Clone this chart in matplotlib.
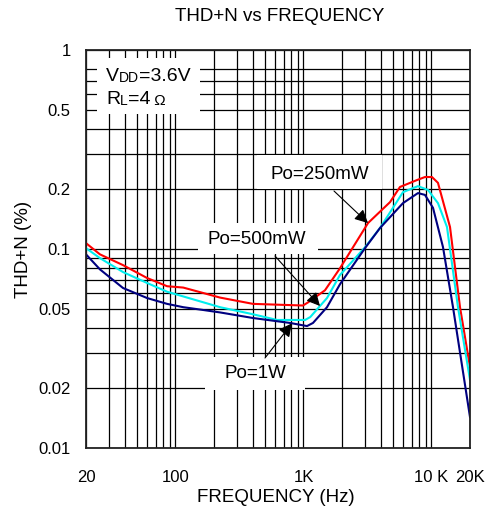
"""
THD+N vs frecuencia para tres potencias de salida.
Escala log-log con rejilla completa, estilo hoja de datos.
"""

import matplotlib
matplotlib.use("Agg")
import matplotlib.pyplot as plt
import matplotlib.ticker as mtick
from matplotlib.patches import Rectangle
import numpy as np

plt.rcParams["font.family"] = ["Liberation Sans", "DejaVu Sans"]

# \\\\\\\\\\\
# Datos
# \\\\\\\\\\\

freq_250mw = [20, 25.7, 38.9, 60, 86, 115, 223, 403, 991, 1090, 1472, 1928,
              3193, 4744, 5675, 7703, 8897, 10090, 11240, 13960, 16710, 20000]
thd_250mw = [0.107, 0.094, 0.083, 0.0715, 0.065, 0.064, 0.057, 0.053, 0.052, 0.054, 0.062, 0.080,
             0.135, 0.172, 0.205, 0.222, 0.230, 0.230, 0.215, 0.129, 0.051, 0.0255]

freq_500mw = [20, 25.7, 38.9, 60, 86, 223, 403, 621, 1030, 1130, 1527, 1928,
              3025, 3963, 5988, 7846, 9393, 11240, 13220, 16110, 20000]
thd_500mw = [0.101, 0.090, 0.0766, 0.0675, 0.061, 0.051, 0.047, 0.044, 0.044, 0.0455, 0.0567, 0.074,
             0.102, 0.1275, 0.193, 0.207, 0.198, 0.170, 0.129, 0.051, 0.022]

freq_1w = [20, 25.7, 38.9, 60, 86, 115, 164, 223, 403, 785, 1066, 1187, 1527, 1928,
           3025, 3963, 5988, 7846, 8897, 10280, 12300, 14730, 20000]
thd_1w = [0.094, 0.079, 0.0637, 0.0567, 0.053, 0.051, 0.0494, 0.048, 0.045, 0.0425, 0.041, 0.0425, 0.051, 0.0665,
          0.101, 0.1275, 0.170, 0.191, 0.187, 0.161, 0.1023, 0.051, 0.0143]

x_ticks = [20, 100, 1000, 10000, 20000]
x_labels = ["20", "100", "1K", "10 K", "20K"]
y_ticks = [0.01, 0.02, 0.05, 0.1, 0.2, 0.5, 1]
y_labels = ["0.01", "0.02", "0.05", "0.1", "0.2", "0.5", "1"]

x_grid = [30, 40, 50, 60, 70, 80, 90, 200, 300, 400, 500, 600, 700, 800, 900,
          2000, 3000, 4000, 5000, 6000, 7000, 8000, 9000]
y_grid = [0.03, 0.04, 0.06, 0.07, 0.08, 0.09, 0.3, 0.4, 0.6, 0.7, 0.8]

# frecuencia a la que apunta cada flecha
arrow_freq = {"250mW": 3193, "500mW": 1346, "1W": 813}

W, H = 494, 517
AX_L, AX_R, AX_T, AX_B = 86, 470, 50, 448


def px(x, y):
    """Pixel de la imagen -> fracción de ejes."""
    return (x - AX_L) / (AX_R - AX_L), (AX_B - y) / (AX_B - AX_T)


def white_box(ax, x0, y0, x1, y1):
    a0 = px(x0, y1)
    a1 = px(x1, y0)
    ax.add_patch(Rectangle(a0, a1[0] - a0[0], a1[1] - a0[1], transform=ax.transAxes,
                           facecolor="white", edgecolor="none", zorder=2))


def log_interp(f, freqs, vals):
    return 10 ** np.interp(np.log10(f), np.log10(freqs), np.log10(vals))


fig = plt.figure(figsize=(W / 100, H / 100), dpi=100)
ax = fig.add_axes([AX_L / W, 1 - AX_B / H, (AX_R - AX_L) / W, (AX_B - AX_T) / H])
ax.set_xscale("log")
ax.set_yscale("log")
ax.set_xlim(20, 20000)
ax.set_ylim(0.01, 1)

ax.set_xticks(x_ticks, x_labels)
ax.set_yticks(y_ticks, y_labels)
ax.set_xticks(x_grid, minor=True)
ax.set_yticks(y_grid, minor=True)
ax.xaxis.set_minor_formatter(mtick.NullFormatter())
ax.yaxis.set_minor_formatter(mtick.NullFormatter())
ax.tick_params(which="both", length=0)
ax.tick_params(axis="x", pad=16, labelsize=12)
ax.tick_params(axis="y", pad=11, labelsize=12)
ax.grid(which="both", color="black", lw=0.9)
for s in ax.spines.values():
    s.set_linewidth(1.3)
    s.set_color("#222222")
    s.set_zorder(5)

ax.plot(freq_250mw, thd_250mw, color="#ff0000", lw=1.5, zorder=3)
ax.plot(freq_500mw, thd_500mw, color="#00eeee", lw=1.5, zorder=3)
ax.plot(freq_1w, thd_1w, color="#000080", lw=1.5, zorder=3)

# cajas blancas de las etiquetas
white_box(ax, 97, 58, 200, 114)
white_box(ax, 257, 155, 382, 189)
white_box(ax, 198, 223, 318, 254)
white_box(ax, 205, 357, 305, 390)

big, small = 14, 10
t = ax.text(*px(106, 81), "V", transform=ax.transAxes, fontsize=big, va="baseline", zorder=4)
t = ax.annotate("DD", xy=(1, 0), xycoords=t, fontsize=small, va="bottom", zorder=4)
ax.annotate("=3.6V", xy=(1, 0), xycoords=t, fontsize=big, va="bottom", zorder=4)
t = ax.text(*px(106, 104), "R", transform=ax.transAxes, fontsize=big, va="baseline", zorder=4)
t = ax.annotate("L", xy=(1, 0), xycoords=t, fontsize=small, va="bottom", zorder=4)
t = ax.annotate("=4", xy=(1, 0), xycoords=t, fontsize=big, va="bottom", zorder=4)
ax.annotate(" Ω", xy=(1, 0), xycoords=t, fontsize=small + 1, va="bottom", zorder=4)

labels = [
    ("Po=250mW", (320, 174.5), (334, 191), arrow_freq["250mW"], freq_250mw, thd_250mw),
    ("Po=500mW", (257, 239.5), (275, 256), arrow_freq["500mW"], freq_500mw, thd_500mw),
    ("Po=1W", (255.5, 373.5), (265, 358), arrow_freq["1W"], freq_1w, thd_1w),
]
for text, center, tail, f, fs, vs in labels:
    ax.text(*px(*center), text, transform=ax.transAxes, fontsize=13.5,
            ha="center", va="center", zorder=4)
    ax.annotate("", xy=(f, log_interp(f, fs, vs)), xycoords="data",
                xytext=px(*tail), textcoords="axes fraction",
                arrowprops=dict(arrowstyle="-|>", color="black", lw=0.8,
                                mutation_scale=20, shrinkA=0, shrinkB=0),
                zorder=4)

fig.text(280 / W, 1 - 16.5 / H, "THD+N vs FREQUENCY", fontsize=13.5, ha="center", va="center")
fig.text(276 / W, 1 - 498 / H, "FREQUENCY (Hz)", fontsize=13.5, ha="center", va="center")
fig.text(24 / W, 1 - 249 / H, "THD+N (%)", fontsize=13.5, ha="center", va="center", rotation=90)

fig.savefig("out.png", dpi=100)
plt.close(fig)
